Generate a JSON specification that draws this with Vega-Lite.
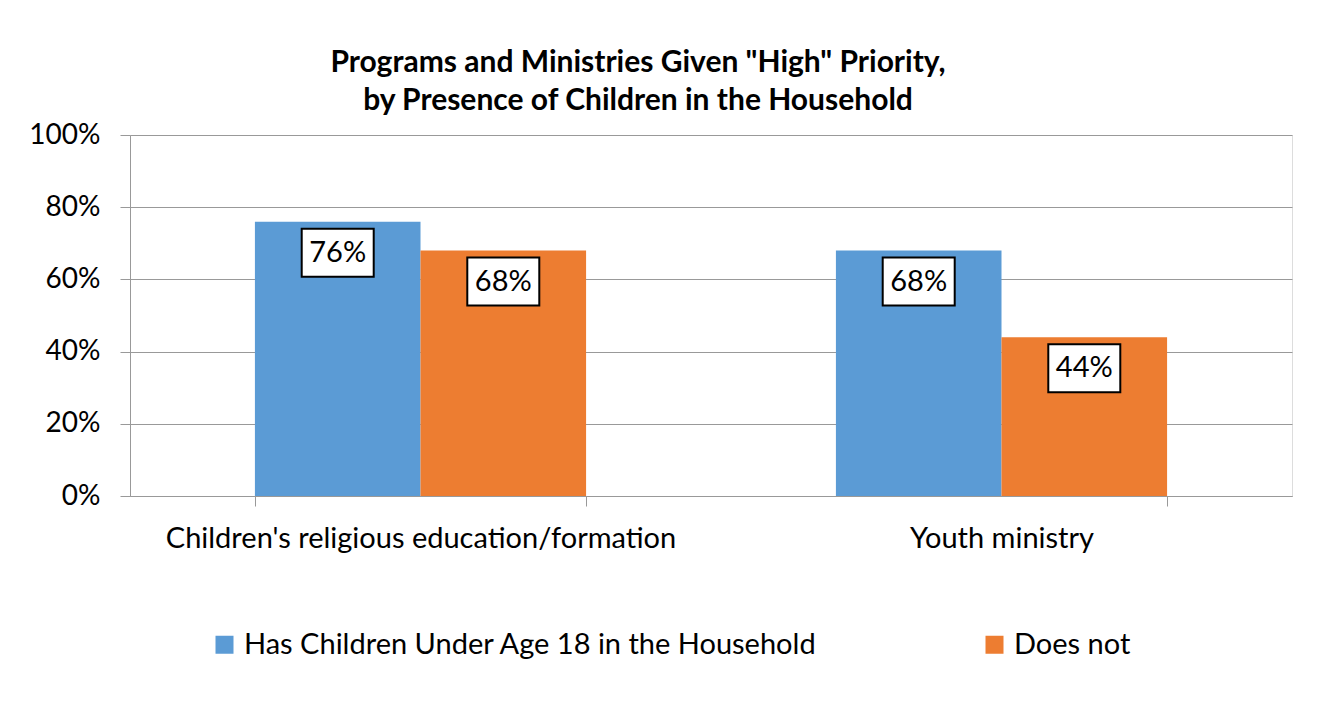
{
  "$schema": "https://vega.github.io/schema/vega-lite/v6.json",
  "width": 1162,
  "height": 361,
  "autosize": {"type": "none"},
  "padding": {"left": 130, "top": 135, "right": 33, "bottom": 213},
  "background": "white",
  "title": {
    "text": ["Programs and Ministries Given \"High\" Priority,", "by Presence of Children in the Household"],
    "font": "Lato",
    "fontSize": 30,
    "fontWeight": "bold",
    "color": "black",
    "anchor": "middle",
    "dx": -73,
    "offset": 5,
    "lineHeight": 38
  },
  "data": {
    "values": [
      {"program": "Children's religious education/formation", "group": "Has Children Under Age 18 in the Household", "value": 0.76},
      {"program": "Children's religious education/formation", "group": "Does not", "value": 0.68},
      {"program": "Youth ministry", "group": "Has Children Under Age 18 in the Household", "value": 0.68},
      {"program": "Youth ministry", "group": "Does not", "value": 0.44}
    ]
  },
  "encoding": {
    "x": {
      "field": "program",
      "type": "nominal",
      "sort": null,
      "scale": {"paddingInner": 0.43, "paddingOuter": 0.215},
      "axis": {
        "title": null,
        "labelAngle": 0,
        "labelFont": "Lato",
        "labelFontSize": 29,
        "labelColor": "black",
        "labelPadding": 18,
        "labelLimit": 800,
        "tickBand": "extent",
        "tickSize": 10,
        "tickColor": "#999999",
        "domainColor": "#999999",
        "grid": false
      }
    },
    "xOffset": {
      "field": "group",
      "type": "nominal",
      "sort": ["Has Children Under Age 18 in the Household", "Does not"],
      "scale": {"paddingInner": 0, "paddingOuter": 0}
    },
    "y": {
      "field": "value",
      "type": "quantitative",
      "scale": {"domain": [0, 1]},
      "axis": {
        "title": null,
        "values": [0, 0.2, 0.4, 0.6, 0.8, 1],
        "format": ".0%",
        "labelFont": "Lato",
        "labelFontSize": 28,
        "labelColor": "black",
        "labelPadding": 20,
        "tickSize": 10,
        "tickColor": "#999999",
        "domainColor": "#999999",
        "grid": true,
        "gridColor": "#999999"
      }
    }
  },
  "layer": [
    {
      "mark": {"type": "bar"},
      "encoding": {
        "color": {
          "field": "group",
          "type": "nominal",
          "sort": ["Has Children Under Age 18 in the Household", "Does not"],
          "scale": {"range": ["#5B9BD5", "#ED7D31"]},
          "legend": {
            "orient": "none",
            "legendX": 80,
            "legendY": 495,
            "direction": "horizontal",
            "title": null,
            "symbolType": "square",
            "symbolSize": 324,
            "symbolStrokeWidth": 0,
            "symbolOpacity": 1,
            "labelFont": "Lato",
            "labelFontSize": 29,
            "labelColor": "black",
            "labelOffset": 5,
            "labelLimit": 800,
            "columnPadding": 162
          }
        }
      }
    },
    {
      "mark": {
        "type": "point",
        "shape": "M-1.5,-1H1.5V1H-1.5Z",
        "size": 2304,
        "filled": true,
        "fill": "white",
        "stroke": "black",
        "strokeWidth": 2,
        "opacity": 1,
        "yOffset": 31
      }
    },
    {
      "mark": {
        "type": "text",
        "font": "Lato",
        "fontSize": 29,
        "color": "black",
        "baseline": "middle",
        "align": "center",
        "dy": 31
      },
      "encoding": {
        "text": {"field": "value", "type": "quantitative", "format": ".0%"}
      }
    }
  ]
}
